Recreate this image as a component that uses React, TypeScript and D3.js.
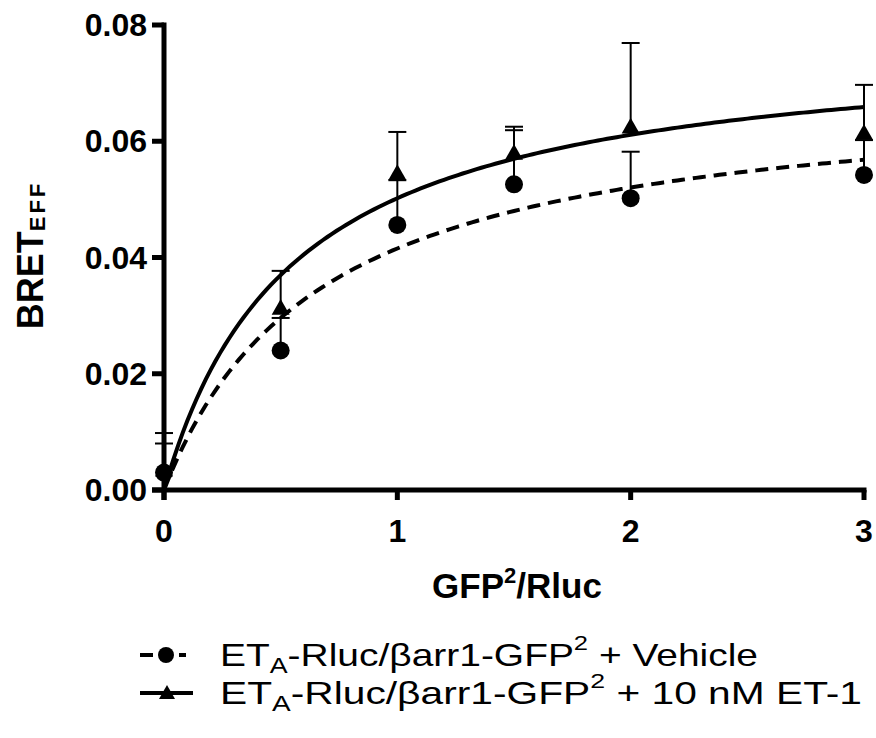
import React from "react";
import * as d3 from "d3";

const xValues = [0, 0.5, 1, 1.5, 2, 3];
const vehicleMean = [0.003, 0.024, 0.0456, 0.0526, 0.0502, 0.0542];
const vehicleSem = [0.005, 0.0056, 0.0077, 0.0093, 0.008, 0.006];
const et1Mean = [0.0035, 0.0313, 0.0545, 0.058, 0.0625, 0.0614];
const et1Sem = [0.0063, 0.0064, 0.0071, 0.0045, 0.0144, 0.0083];
// one-site hyperbolic fits (Bmax, Kd)
const vehicleFit = [0.0696, 0.675];
const et1Fit = [0.0781, 0.556];
const xTicks = [0, 1, 2, 3];
const yTicks = [0, 0.02, 0.04, 0.06, 0.08];
const legendLabels = [" + Vehicle", " + 10 nM ET-1"];

const W = 876;
const H = 738;
const FONT = "'Liberation Sans', Arial, Helvetica, sans-serif";

export default function App() {
  const x = d3.scaleLinear().domain([0, 3]).range([164, 864]);
  const y = d3.scaleLinear().domain([0, 0.08]).range([490, 25]);

  const fitX = d3.range(0, 3.0001, 0.02);
  const hyper = (p: number[]) => (v: number) => (p[0] * v) / (p[1] + v);
  const vehPath =
    d3
      .line<number>()
      .x((d) => x(d))
      .y((d) => y(hyper(vehicleFit)(d)))(fitX) || "";
  const etPath =
    d3
      .line<number>()
      .x((d) => x(d))
      .y((d) => y(hyper(et1Fit)(d)))(fitX) || "";

  const tri = (cx: number, cy: number, s = 9) =>
    `M${cx},${cy - s}L${cx + s},${cy + s * 0.75}L${cx - s},${cy + s * 0.75}Z`;

  const errBar = (xv: number, m: number, s: number, key: string) => (
    <g key={key} stroke="#000" strokeWidth={2}>
      <line x1={x(xv)} x2={x(xv)} y1={y(m)} y2={y(m + s)} />
      <line x1={x(xv) - 9} x2={x(xv) + 9} y1={y(m + s)} y2={y(m + s)} />
    </g>
  );

  const legendRow = (label: string, baseline: number, len: number) => (
    <text x={220} y={baseline} fontSize={32} textLength={len} lengthAdjust="spacingAndGlyphs">
      ET
      <tspan fontSize={22} dy={7}>
        A
      </tspan>
      <tspan dy={-7}>-Rluc/βarr1-GFP</tspan>
      <tspan fontSize={21} dy={-16}>
        2
      </tspan>
      <tspan dy={16}>{label}</tspan>
    </text>
  );

  const row1 = 666;
  const row2 = 704;

  return (
    <svg
      width={W}
      height={H}
      style={{ position: "absolute", left: 0, top: 0, background: "#fff" }}
      fontFamily={FONT}
    >
      <rect width={W} height={H} fill="#fff" />
      {/* fitted curves */}
      <path d={etPath} fill="none" stroke="#000" strokeWidth={4} />
      <path d={vehPath} fill="none" stroke="#000" strokeWidth={4} strokeDasharray="13 8" />
      {/* error bars (upper only) */}
      {xValues.map((xv, i) => errBar(xv, vehicleMean[i], vehicleSem[i], "ve" + i))}
      {xValues.map((xv, i) => errBar(xv, et1Mean[i], et1Sem[i], "ee" + i))}
      {/* markers */}
      {xValues.map((xv, i) => (
        <circle key={"vc" + i} cx={x(xv)} cy={y(vehicleMean[i])} r={9} fill="#000" />
      ))}
      {xValues.map((xv, i) => (
        <path key={"et" + i} d={tri(x(xv), y(et1Mean[i]))} fill="#000" />
      ))}

      {/* axes */}
      <g stroke="#000" strokeWidth={5}>
        <line x1={164} x2={164} y1={y(0.08) - 2.5} y2={500} />
        <line x1={152} x2={x(3) + 2.5} y1={490} y2={490} />
        {yTicks.map((t) => (
          <line key={"yt" + t} x1={152} x2={164} y1={y(t)} y2={y(t)} />
        ))}
        {xTicks.map((t) => (
          <line key={"xt" + t} x1={x(t)} x2={x(t)} y1={490} y2={500} />
        ))}
      </g>
      <g fontSize={32} fontWeight="bold" fill="#000">
        {yTicks.map((t) => (
          <text key={"yl" + t} x={147} y={y(t) + 11} textAnchor="end">
            {d3.format(".2f")(t)}
          </text>
        ))}
        {xTicks.map((t) => (
          <text key={"xl" + t} x={x(t)} y={542} textAnchor="middle">
            {String(t)}
          </text>
        ))}
      </g>
      {/* axis titles */}
      <text
        transform="translate(43,255) rotate(-90)"
        textAnchor="middle"
        fontSize={36}
        fontWeight="bold"
      >
        BRET
        <tspan fontSize={22} dy={2} letterSpacing={3}>
          EFF
        </tspan>
      </text>
      <text x={517} y={598} textAnchor="middle" fontSize={35} fontWeight="bold">
        GFP
        <tspan fontSize={22} dy={-15}>
          2
        </tspan>
        <tspan dy={15}>/Rluc</tspan>
      </text>

      {/* legend */}
      <g>
        <line x1={140} x2={153} y1={row1 - 11} y2={row1 - 11} stroke="#000" strokeWidth={4} />
        <circle cx={166} cy={row1 - 11} r={8} fill="#000" />
        <line x1={179} x2={186} y1={row1 - 11} y2={row1 - 11} stroke="#000" strokeWidth={4} />
        {legendRow(legendLabels[0], row1, 538)}
        <line x1={140} x2={193} y1={row2 - 11} y2={row2 - 11} stroke="#000" strokeWidth={4} />
        <path d={tri(167, row2 - 11, 8)} fill="#000" />
        {legendRow(legendLabels[1], row2, 642)}
      </g>
    </svg>
  );
}
